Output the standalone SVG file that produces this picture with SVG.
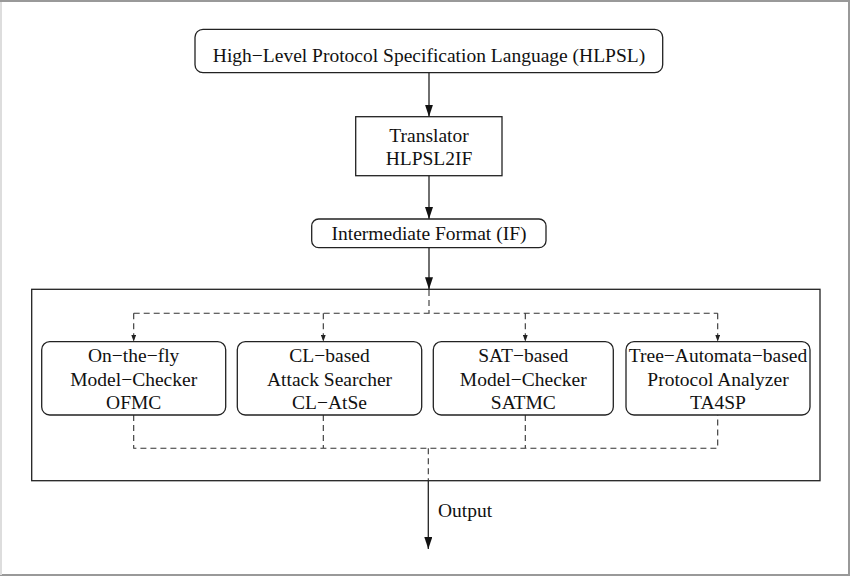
<svg xmlns="http://www.w3.org/2000/svg" width="850" height="576" viewBox="0 0 850 576">
<defs>
<style>
text{font-family:"Liberation Serif","Times New Roman",serif;font-size:19.5px;fill:#111;text-anchor:middle}
.box{fill:#fff;stroke:#222;stroke-width:1.3}
.ln{fill:none;stroke:#222;stroke-width:1.3}
.dash{fill:none;stroke:#333;stroke-width:1.1;stroke-dasharray:6 4}
</style>
<marker id="ah" viewBox="0 0 12 8" refX="12" refY="4" markerWidth="12" markerHeight="8" markerUnits="userSpaceOnUse" orient="auto">
<path d="M0,0 L12,4 L0,8 Z" fill="#111"/>
</marker>
<marker id="sh" viewBox="0 0 5 7" refX="2.5" refY="7" markerWidth="5" markerHeight="7" markerUnits="userSpaceOnUse">
<path d="M0,0 L5,0 L2.5,7 Z" fill="#222"/>
</marker>
</defs>
<rect x="0" y="0" width="850" height="576" fill="#fff"/>
<path d="M1,576 V1 H849 V575 H0" fill="none" stroke="#999" stroke-width="2"/>
<path d="M1,2 V575" stroke="#ddd" stroke-width="2"/>

<g id="container"><rect class="box" x="31.7" y="289.3" width="788.3" height="191.4"/></g>

<g id="connectors">
<line class="ln" x1="429" y1="73" x2="429" y2="116.7" marker-end="url(#ah)"/>
<line class="ln" x1="429" y1="176" x2="429" y2="219" marker-end="url(#ah)"/>
<line class="ln" x1="429" y1="248" x2="429" y2="289.3" marker-end="url(#ah)"/>
<path class="dash" d="M429,290 V313.3 M133.7,313.3 H717.7"/>
<line class="dash" x1="133.7" y1="313.3" x2="133.7" y2="341.7" marker-end="url(#sh)"/>
<line class="dash" x1="323.3" y1="313.3" x2="323.3" y2="341.7" marker-end="url(#sh)"/>
<line class="dash" x1="525.3" y1="313.3" x2="525.3" y2="341.7" marker-end="url(#sh)"/>
<line class="dash" x1="717.7" y1="313.3" x2="717.7" y2="341.7" marker-end="url(#sh)"/>
<path class="dash" d="M133.7,415 V448.3 H717.7 V415 M323.3,415 V448.3 M525.3,415 V448.3 M428.3,448.3 V480.7"/>
<line class="ln" x1="428.3" y1="480.7" x2="428.3" y2="549" marker-end="url(#ah)"/>
<text x="438" y="517" style="text-anchor:start">Output</text>
</g>

<g id="hlpsl">
<rect class="box" x="195" y="29.3" width="467.7" height="43.4" rx="8"/>
<text x="429" y="61.5">High−Level Protocol Specification Language (HLPSL)</text>
</g>
<g id="translator">
<rect class="box" x="355.7" y="116.7" width="146.3" height="59"/>
<text x="429" y="141.5">Translator</text>
<text x="429" y="165">HLPSL2IF</text>
</g>
<g id="if">
<rect class="box" x="311.7" y="219" width="234.3" height="28.7" rx="7"/>
<text x="429" y="240">Intermediate Format (IF)</text>
</g>
<g id="ofmc">
<rect class="box" x="41.7" y="341.7" width="184" height="73.3" rx="8"/>
<text x="133.7" y="361.5">On−the−fly</text>
<text x="133.7" y="385.5">Model−Checker</text>
<text x="133.7" y="409">OFMC</text>
</g>
<g id="clatse">
<rect class="box" x="237.3" y="341.7" width="184.4" height="73.3" rx="8"/>
<text x="329.5" y="361.5">CL−based</text>
<text x="329.5" y="385.5">Attack Searcher</text>
<text x="329.5" y="409">CL−AtSe</text>
</g>
<g id="satmc">
<rect class="box" x="433.3" y="341.7" width="180" height="73.3" rx="8"/>
<text x="523.3" y="361.5">SAT−based</text>
<text x="523.3" y="385.5">Model−Checker</text>
<text x="523.3" y="409">SATMC</text>
</g>
<g id="ta4sp">
<rect class="box" x="626" y="341.7" width="184" height="73.3" rx="8"/>
<text x="718" y="361.5">Tree−Automata−based</text>
<text x="718" y="385.5">Protocol Analyzer</text>
<text x="718" y="409">TA4SP</text>
</g>
</svg>
